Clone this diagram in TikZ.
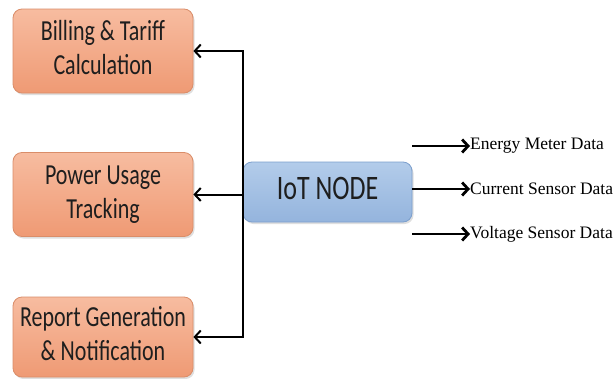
\documentclass[tikz,border=0pt]{standalone}
\usepackage{fontspec}
\usepackage{graphicx}
\usepackage{tikz}
\usetikzlibrary{arrows.meta,shadows}
\newfontfamily\boxfont{Carlito}
\newfontfamily\datafont{Liberation Serif}
\definecolor{tasktop}{HTML}{F7BCA0}
\definecolor{taskbot}{HTML}{EF9A74}
\definecolor{taskedge}{HTML}{DA8D69}
\definecolor{nodetop}{HTML}{B3CCEA}
\definecolor{nodebot}{HTML}{94B4DD}
\definecolor{nodeedge}{HTML}{7C9FCD}
\definecolor{boxtext}{HTML}{1E1E1E}

% narrow, tall box lettering
\newcommand{\talltext}[1]{\scalebox{1}[1.32]{\begin{tabular}{@{}c@{}}#1\end{tabular}}}

\tikzset{
  taskbox/.style={draw=taskedge, line width=0.8pt, rounded corners=9pt,
    top color=tasktop, bottom color=taskbot, minimum width=180pt,
    minimum height=84pt, align=center, text=boxtext,
    font=\boxfont\fontsize{22}{25.5}\selectfont,
    drop shadow={opacity=0.25, shadow xshift=1.5pt, shadow yshift=-2pt}},
  iotbox/.style={draw=nodeedge, line width=0.8pt, rounded corners=9pt,
    top color=nodetop, bottom color=nodebot, minimum width=169pt,
    minimum height=60pt, text=boxtext,
    font=\boxfont\fontsize{26}{30}\selectfont,
    drop shadow={opacity=0.25, shadow xshift=1.5pt, shadow yshift=-2pt}},
  feed/.style={-{Straight Barb[length=6pt,width=13pt]}, line width=2pt},
  datafeed/.style={-{Straight Barb[length=6pt,width=13pt]}, line width=2.8pt},
  datalabel/.style={anchor=west, inner sep=0pt, text=black,
    font=\datafont\fontsize{17.5}{20}\selectfont}
}

\begin{document}
\begin{tikzpicture}[x=1pt, y=-1pt]
  \useasboundingbox[fill=white] (0,0) rectangle (616,378);

  % IoT node and the three tasks fed from it
  \node[iotbox] (iot) at (327.5,192) {\talltext{IoT NODE}};
  \node[taskbox] (bill) at (103,51) {\talltext{Billing \& Tariff\\Calculation}};
  \node[taskbox] (power) at (103,194.5) {\talltext{Power Usage\\Tracking}};
  \node[taskbox, minimum height=80pt] (report) at (103,337)
    {\talltext{Report Generation\\\& Notification}};

  \draw[feed] (iot.west) |- (bill.east);
  \draw[feed] (iot.west) |- (power.east);
  \draw[feed] (iot.west) |- (report.east);

  % incoming data streams
  \coordinate (src1) at (412,146);
  \coordinate (src2) at (412,189);
  \coordinate (src3) at (412,234);
  \node[datalabel] (energy) at (470,146) {Energy Meter Data};
  \node[datalabel] (current) at (470,189) {Current Sensor Data};
  \node[datalabel] (voltage) at (470,234) {Voltage Sensor Data};

  \draw[datafeed] (src1) -- (energy.west);
  \draw[datafeed] (src2) -- (current.west);
  \draw[datafeed] (src3) -- (voltage.west);
\end{tikzpicture}
\end{document}
